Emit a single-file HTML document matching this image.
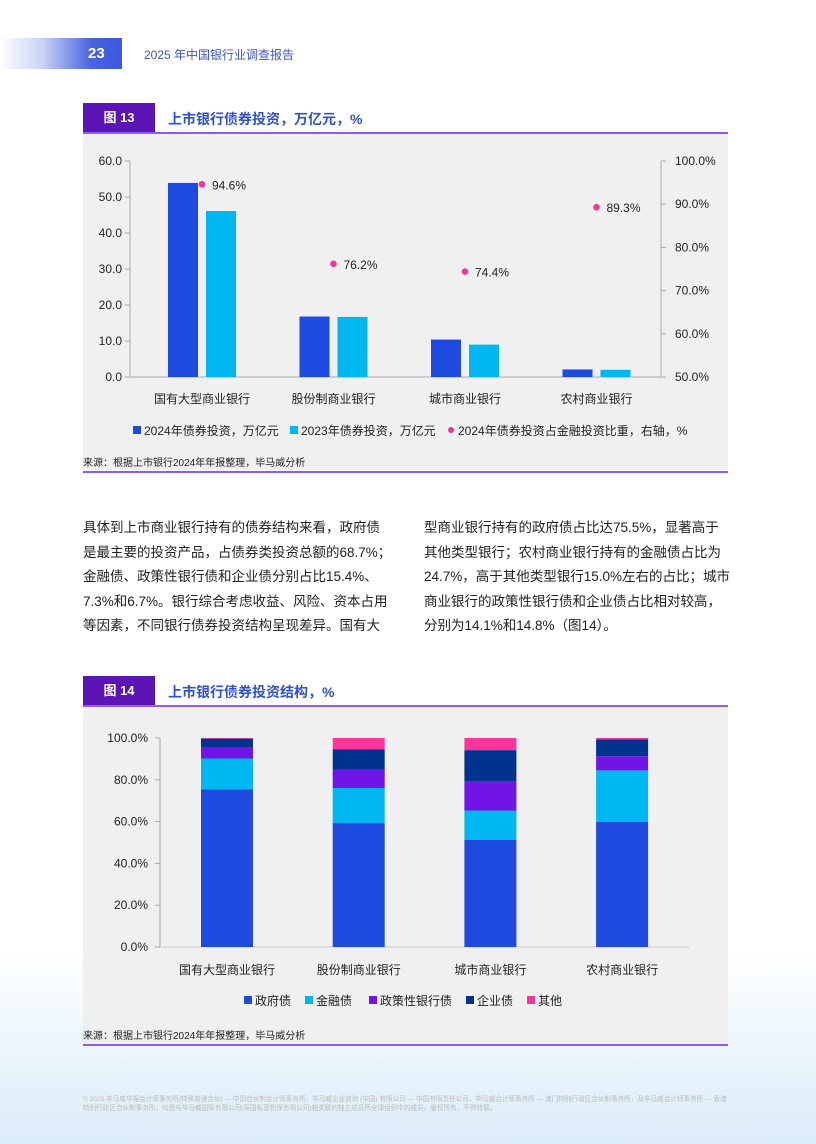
<!DOCTYPE html>
<html><head><meta charset="utf-8">
<style>
body{margin:0;width:816px;height:1144px;position:relative;background:#fff;font-family:"Liberation Sans","Noto Sans CJK SC",sans-serif;overflow:hidden}
.abs{position:absolute}
.bgfade{position:absolute;left:0;right:0;top:950px;bottom:0;background:linear-gradient(180deg,rgba(255,255,255,0),#e4f2fb 70%,#dcebf8)}
.hdr{position:absolute;left:0;top:38px;width:122px;height:31px;background:linear-gradient(90deg,#fff,#c8d3f5 35%,#4a63e0 75%,#3b57e0)}
.pn{position:absolute;left:88px;top:45px;color:#fff;font-weight:bold;font-size:15px}
.ttl{position:absolute;left:144px;top:46px;color:#3a55d8;font-size:12px}
.fig{position:absolute;left:83px;width:72px;height:30px;background:#5b14b5;color:#fff;font-weight:bold;font-size:13px;line-height:30px;text-align:center}
.figt{position:absolute;left:168px;color:#2f4fd9;font-weight:bold;font-size:14px}
.line{position:absolute;left:83px;width:645px;height:2px;background:#8b5cf6}
.panel{position:absolute;left:83px;width:645px;background:#f0f0f0}
.src{position:absolute;left:83px;font-size:10px;color:#222}
.para{position:absolute;top:516px;font-size:13.5px;line-height:24.5px;color:#222;width:310px}
.foot{position:absolute;left:83px;top:1095px;width:650px;font-size:6.6px;line-height:9px;color:#bbb}
</style></head><body>
<div class="bgfade"></div>
<div class="hdr"></div>
<div class="pn">23</div>
<div class="ttl">2025 年中国银行业调查报告</div>

<div class="fig" style="top:103px">图 13</div>
<div class="figt" style="top:109px">上市银行债券投资，万亿元，%</div>
<div class="line" style="top:132px"></div>
<div class="panel" style="top:134px;height:336px"></div>
<svg class="abs" style="left:0;top:0" width="816" height="480" id="c1"></svg>
<div class="src" style="top:454px">来源：根据上市银行2024年年报整理，毕马威分析</div>
<div class="line" style="top:471px"></div>

<div class="para" style="left:83px">具体到上市商业银行持有的债券结构来看，政府债是最主要的投资产品，占债券类投资总额的68.7%；金融债、政策性银行债和企业债分别占比15.4%、7.3%和6.7%。银行综合考虑收益、风险、资本占用等因素，不同银行债券投资结构呈现差异。国有大</div>
<div class="para" style="left:424px;width:330px;white-space:nowrap">型商业银行持有的政府债占比达75.5%，显著高于<br>其他类型银行；农村商业银行持有的金融债占比为<br>24.7%，高于其他类型银行15.0%左右的占比；城市<br>商业银行的政策性银行债和企业债占比相对较高，<br>分别为14.1%和14.8%（图14）。</div>

<div class="fig" style="top:676px">图 14</div>
<div class="figt" style="top:682px">上市银行债券投资结构，%</div>
<div class="line" style="top:705px"></div>
<div class="panel" style="top:707px;height:336px"></div>
<svg class="abs" style="left:0;top:0" width="816" height="1044" id="c2"></svg>
<div class="src" style="top:1027px">来源：根据上市银行2024年年报整理，毕马威分析</div>
<div class="line" style="top:1044px"></div>

<div class="foot">© 2025 毕马威华振会计师事务所(特殊普通合伙) — 中国合伙制会计师事务所，毕马威企业咨询 (中国) 有限公司 — 中国有限责任公司，毕马威会计师事务所 — 澳门特别行政区合伙制事务所，及毕马威会计师事务所 — 香港特别行政区合伙制事务所，均是与毕马威国际有限公司(英国私营担保有限公司)相关联的独立成员所全球组织中的成员。版权所有，不得转载。</div>

<script>
const categories=["国有大型商业银行","股份制商业银行","城市商业银行","农村商业银行"];
const bonds2024=[53.9,16.8,10.4,2.1];
const bonds2023=[46.1,16.7,9.0,2.0];
const shareRatio=[94.6,76.2,74.4,89.3];
const leftTicks=[0,10,20,30,40,50,60];
const rightTicks=[50,60,70,80,90,100];

const segNames=["政府债","金融债","政策性银行债","企业债","其他"];
const govBonds=[75.5,59.3,51.2,59.8];
const finBonds=[14.7,16.8,14.1,24.7];
const policyBonds=[5.5,8.8,14.1,6.8];
const corpBonds=[4.0,9.6,14.8,8.1];
const otherBonds=[0.3,5.5,5.8,0.6];
const pctTicks=[0,20,40,60,80,100];

const NS="http://www.w3.org/2000/svg";
function mk(svg,tag,attrs,text){const e=document.createElementNS(NS,tag);for(const k in attrs)e.setAttribute(k,attrs[k]);if(text!==undefined)e.textContent=text;svg.appendChild(e);return e;}
const F='"Liberation Sans","Noto Sans CJK SC",sans-serif';

// Chart 1
const s1=document.getElementById('c1');
const y1=v=>377-v/60*216;
const yr=v=>377-(v-50)/50*216;
const gx=i=>137+i*131.5+65;
let e;
e=mk(s1,'line',{x1:130,y1:161,x2:130,y2:377,stroke:'#aaa'});

e=mk(s1,'line',{x1:661,y1:161,x2:661,y2:377,stroke:'#aaa'});

e=mk(s1,'line',{x1:130,y1:377,x2:661,y2:377,stroke:'#aaa'});

leftTicks.forEach(t=>{mk(s1,'line',{x1:125,y1:y1(t),x2:130,y2:y1(t),stroke:'#aaa'});
 e=mk(s1,'text',{x:122,y:y1(t)+4,'text-anchor':'end','font-size':12,fill:'#222','font-family':F},t.toFixed(1));
 });
rightTicks.forEach(t=>{mk(s1,'line',{x1:661,y1:yr(t),x2:666,y2:yr(t),stroke:'#aaa'});
 e=mk(s1,'text',{x:675,y:yr(t)+4,'font-size':12,fill:'#222','font-family':F},t.toFixed(1)+'%');
 });
categories.forEach((c,i)=>{const cx=gx(i);
 e=mk(s1,'rect',{x:cx-34,y:y1(bonds2024[i]),width:30,height:377-y1(bonds2024[i]),fill:'#1f4ae0'});
 
 e=mk(s1,'rect',{x:cx+4,y:y1(bonds2023[i]),width:30,height:377-y1(bonds2023[i]),fill:'#00b8f1'});
 
 e=mk(s1,'circle',{cx:cx,cy:yr(shareRatio[i]),r:3.3,fill:'#f7339a'});
 
 e=mk(s1,'text',{x:cx+10,y:yr(shareRatio[i])+5,'font-size':12,fill:'#222','font-family':F},shareRatio[i].toFixed(1)+'%');
 
 e=mk(s1,'text',{x:cx,y:403,'text-anchor':'middle','font-size':12,fill:'#222','font-family':F},c);
 });
const leg1=[["rect","#1f4ae0","2024年债券投资，万亿元",133],["rect","#00b8f1","2023年债券投资，万亿元",290],["circle","#f7339a","2024年债券投资占金融投资比重，右轴，%",447]];
leg1.forEach(l=>{ if(l[0]=="rect") mk(s1,'rect',{x:l[3],y:426,width:8,height:8,fill:l[1]}); else mk(s1,'circle',{cx:l[3]+4,cy:430,r:3,fill:l[1]});
 e=mk(s1,'text',{x:l[3]+11,y:435,'font-size':12,fill:'#222','font-family':F},l[2]);
 });

// Chart 2
const s2=document.getElementById('c2');
const y2=v=>947-v/100*209;
const bx=i=>201+i*131.7;
e=mk(s2,'line',{x1:160,y1:738,x2:160,y2:947,stroke:'#aaa'});

e=mk(s2,'line',{x1:160,y1:947,x2:690,y2:947,stroke:'#ccc'});

pctTicks.forEach(t=>{mk(s2,'line',{x1:155,y1:y2(t),x2:160,y2:y2(t),stroke:'#aaa'});
 e=mk(s2,'text',{x:148,y:y2(t)+4,'text-anchor':'end','font-size':12,fill:'#222','font-family':F},t.toFixed(1)+'%');
 });
const series=[govBonds,finBonds,policyBonds,corpBonds,otherBonds];
const cols=["#1f4ae0","#00b8f1","#7014e8","#00338d","#fd349c"];
categories.forEach((c,i)=>{let acc=0;
 series.forEach((s,k)=>{const v=s[i];
  e=mk(s2,'rect',{x:bx(i),y:y2(acc+v),width:52,height:y2(acc)-y2(acc+v),fill:cols[k]});
  
  acc+=v;});
 e=mk(s2,'text',{x:bx(i)+26,y:974,'text-anchor':'middle','font-size':12,fill:'#222','font-family':F},c);
 });
const lx=[244,305,369,466,527];
segNames.forEach((n,k)=>{mk(s2,'rect',{x:lx[k],y:996,width:8,height:8,fill:cols[k]});
 e=mk(s2,'text',{x:lx[k]+11,y:1005,'font-size':12,fill:'#222','font-family':F},n);
 });
</script>
</body></html>
